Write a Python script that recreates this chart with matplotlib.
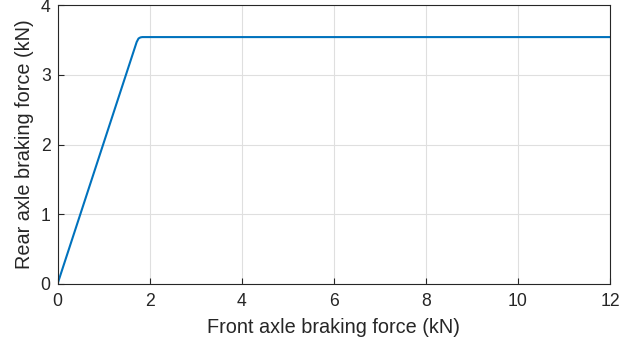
import matplotlib
matplotlib.use('Agg')
import matplotlib.pyplot as plt

# front / rear axle braking force (kN)
front_force = [0.0, 1.72, 1.76, 1.80, 1.84, 12.0]
rear_force = [0.0, 3.47, 3.52, 3.535, 3.54, 3.54]

x_ticks = [0, 2, 4, 6, 8, 10, 12]
y_ticks = [0, 1, 2, 3, 4]

plt.rcParams['font.family'] = ['Liberation Sans', 'DejaVu Sans']

fig = plt.figure(figsize=(6.43, 3.45), dpi=100)
ax = fig.add_axes([57.5 / 643, 1 - 284 / 345, (610 - 57.5) / 643, (284 - 5) / 345])

ax.plot(front_force, rear_force, color='#0072BD', linewidth=1.5)

ax.set_xlim(0, 12)
ax.set_ylim(0, 4)
ax.set_xticks(x_ticks)
ax.set_yticks(y_ticks)
ax.grid(True, color='#DFDFDF', linewidth=0.8)
ax.set_axisbelow(True)

for s in ax.spines.values():
    s.set_color('#262626')
    s.set_linewidth(0.8)
ax.tick_params(direction='in', length=4, width=0.8, colors='#262626', labelsize=12.7)
ax.tick_params(axis='x', pad=6.5)
ax.tick_params(axis='y', pad=5)

ax.set_xlabel('Front axle braking force (kN)', fontsize=14.3, color='#262626', labelpad=5.5)
ax.set_ylabel('Rear axle braking force (kN)', fontsize=14.3, color='#262626', labelpad=4.5)

fig.savefig('out.png', dpi=100)
